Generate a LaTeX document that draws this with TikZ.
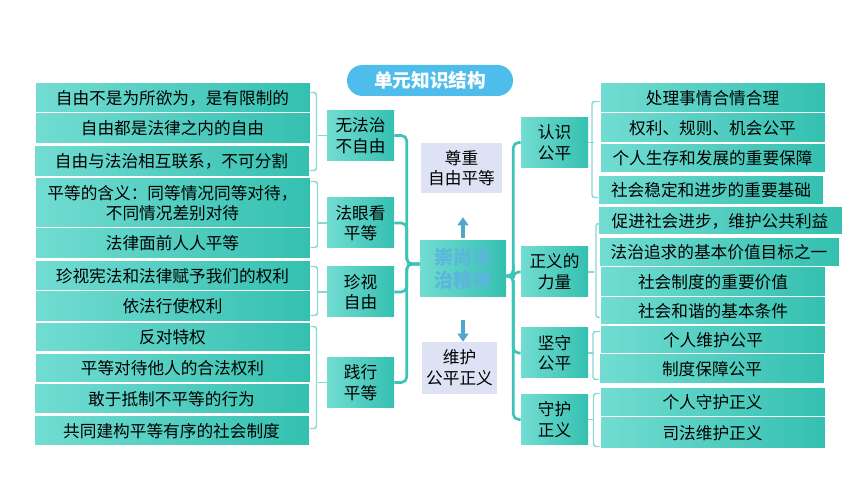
\documentclass[tikz,border=0pt]{standalone}
\usepackage{fontspec}
\setmainfont{Noto Sans CJK SC}
\usetikzlibrary{arrows.meta}
\definecolor{tealL}{HTML}{72DCD2}
\definecolor{tealD}{HTML}{34C0B0}
\definecolor{trunkC}{HTML}{3CC4B6}
\definecolor{braceC}{HTML}{8AD8D2}
\definecolor{goalC}{HTML}{DDE3F4}
\definecolor{titleC}{HTML}{4FBDEB}
\definecolor{arrowC}{HTML}{4FA8CC}
\definecolor{coreC}{HTML}{5DB4DC}

\tikzset{
    leaf/.style={draw=white, line width=0.75pt, left color=tealL, right color=tealD, inner sep=0pt,
        minimum width=206.25pt, align=center, font=\fontsize{12.5}{15.5}\selectfont},
    leafR/.style={leaf, minimum width=168.75pt},
    cat/.style={left color=tealL, right color=tealD, inner sep=0pt, minimum width=50.25pt,
        minimum height=37.5pt, align=center, font=\fontsize{12.5}{15.5}\selectfont},
    goal/.style={fill=goalC, inner sep=0pt, align=center, font=\fontsize{12.5}{15.5}\selectfont},
    bracket/.style={draw=braceC, line width=1.1pt, rounded corners=2pt},
    trunk/.style={draw=trunkC, line width=2pt, rounded corners=4pt},
    goalarrow/.style={draw=arrowC, line width=3pt, -{Triangle[width=8pt,length=6pt]}}
}

\begin{document}
\begin{tikzpicture}[x=0.75pt, y=-0.75pt]
    \fill[white] (0,0) rectangle (861,484);
    \useasboundingbox (0,0) rectangle (861,484);

    \node[fill=titleC, rounded corners=11.6pt, minimum width=124.5pt, minimum height=23.25pt, inner sep=0pt,
        text=white, font=\fontsize{14}{16}\selectfont\bfseries] (title) at (430,80.5) {单元知识结构};

    \node[leaf, minimum height=22.5pt] (L1) at (172.5,98) {自由不是为所欲为，是有限制的};
    \node[leaf, minimum height=23.25pt] (L2) at (172.5,128.5) {自由都是法律之内的自由};
    \node[leaf, minimum height=23.25pt] (L3) at (171.5,161.5) {自由与法治相互联系，不可分割};
    \node[leaf, minimum height=37.5pt] (L4) at (172.5,203) {平等的含义：同等情况同等对待，\\不同情况差别对待};
    \node[leaf, minimum height=23.25pt] (L5) at (172.5,243.5) {法律面前人人平等};
    \node[leaf, minimum height=22.5pt] (L6) at (172.5,276) {珍视宪法和法律赋予我们的权利};
    \node[leaf, minimum height=23.25pt] (L7) at (172.5,306.5) {依法行使权利};
    \node[leaf, minimum height=21.75pt] (L8) at (172.5,337.5) {反对特权};
    \node[leaf, minimum height=21.75pt] (L9) at (172.5,368.5) {平等对待他人的合法权利};
    \node[leaf, minimum height=22.5pt] (L10) at (171.5,399) {敢于抵制不平等的行为};
    \node[leaf, minimum height=22.5pt] (L11) at (171.5,431) {共同建构平等有序的社会制度};

    \node[cat] (C1) at (360.5,135.5) {无法治\\不自由};
    \node[cat] (C2) at (360.5,223) {法眼看\\平等};
    \node[cat] (C3) at (360.5,292) {珍视\\自由};
    \node[cat] (C4) at (360.5,382.5) {践行\\平等};

    \node[cat, minimum width=64.5pt, minimum height=42pt, text=coreC,
        font=\fontsize{14.25}{17}\selectfont\bfseries] (cen) at (463,269) {崇尚法\\治精神};
    \node[goal, minimum width=60.75pt, minimum height=37.5pt] (top) at (461.5,168) {尊重\\自由平等};
    \node[goal, minimum width=56.25pt, minimum height=39pt] (bot) at (459.5,368) {维护\\公平正义};

    \node[cat] (D1) at (554.5,142.5) {认识\\公平};
    \node[cat] (D2) at (554.5,272) {正义的\\力量};
    \node[cat] (D3) at (554.5,353) {坚守\\公平};
    \node[cat] (D4) at (554.5,419.5) {守护\\正义};

    \node[leafR, minimum height=22.5pt] (R1) at (712.5,98) {处理事情合情合理};
    \node[leafR, minimum height=22.5pt] (R2) at (712.5,128) {权利、规则、机会公平};
    \node[leafR, minimum height=21.75pt] (R3) at (712.5,158.5) {个人生存和发展的重要保障};
    \node[leafR, minimum height=21.75pt] (R4) at (711,190.5) {社会稳定和进步的重要基础};
    \node[leafR, minimum width=183pt, minimum height=21pt] (R5) at (720,221) {促进社会进步，维护公共利益};
    \node[leafR, minimum width=180pt, minimum height=21.75pt] (R6) at (719,252.5) {法治追求的基本价值目标之一};
    \node[leafR, minimum height=22.5pt] (R7) at (713,282) {社会制度的重要价值};
    \node[leafR, minimum height=21pt] (R8) at (713,311) {社会和谐的基本条件};
    \node[leafR, minimum height=21pt] (R9) at (713,340) {个人维护公平};
    \node[leafR, minimum height=22.5pt] (R10) at (712,369) {制度保障公平};
    \node[leafR, minimum height=21.75pt] (R11) at (712.5,402.5) {个人守护正义};
    \node[leafR, minimum height=24pt] (R12) at (712.5,433) {司法维护正义};

    \draw[bracket] ([yshift=-7.5pt]L1.north east) -| ([xshift=5.25pt,yshift=5.25pt]L3.south east) -- ([yshift=5.25pt]L3.south east);
    \draw[bracket] ([yshift=-3pt]L4.north east) -| ([xshift=5.25pt,yshift=9pt]L5.south east) -- ([yshift=9pt]L5.south east);
    \draw[bracket] ([yshift=-4.5pt]L6.north east) -| ([xshift=5.25pt,yshift=5.25pt]L7.south east) -- ([yshift=5.25pt]L7.south east);
    \draw[bracket] ([yshift=-3pt]L8.north east) -| ([xshift=5.25pt,yshift=13.5pt]L11.south east) -- ([yshift=13.5pt]L11.south east);
    \draw[bracket] (C1.west) -- ([xshift=5.25pt]L1.east |- C1.west);
    \draw[bracket] (C2.west) -- ([xshift=5.25pt]L1.east |- C2.west);
    \draw[bracket] (C3.west) -- ([xshift=5.25pt]L1.east |- C3.west);
    \draw[bracket] (C4.west) -- ([xshift=5.25pt]L1.east |- C4.west);

    \draw[bracket] ([yshift=-14.25pt]R1.north west) -| ([xshift=-4.5pt,yshift=6pt]R4.south west) -- ([yshift=6pt]R4.south west);
    \draw[bracket] ([yshift=-12.75pt]R5.north west) -| ([xshift=-3pt,yshift=6pt]R8.south west) -- ([yshift=6pt]R8.south west);
    \draw[bracket] ([yshift=-4.5pt]R9.north west) -| ([xshift=-4.5pt,yshift=3.75pt]R10.south west) -- ([yshift=3.75pt]R10.south west);
    \draw[bracket] ([yshift=-4.5pt]R11.north west) -| ([xshift=-4.5pt,yshift=2.25pt]R12.south west) -- ([yshift=2.25pt]R12.south west);
    \draw[bracket] (D1.east) -- ([xshift=-4.5pt]R1.west |- D1.east);
    \draw[bracket] (D2.east) -- ([xshift=-4.5pt]R1.west |- D2.east);
    \draw[bracket] (D3.east) -- ([xshift=-4.5pt]R1.west |- D3.east);
    \draw[bracket] (D4.east) -- ([xshift=-4.5pt]R1.west |- D4.east);

    \draw[trunk] (C1.east) -| ([xshift=-9.75pt,yshift=3.75pt]cen.west) -- ([yshift=3.75pt]cen.west);
    \draw[trunk] (C2.east) -| ([xshift=-9.75pt,yshift=3.75pt]cen.west) -- ([yshift=3.75pt]cen.west);
    \draw[trunk] (C3.east) -| ([xshift=-9.75pt,yshift=3.75pt]cen.west) -- ([yshift=3.75pt]cen.west);
    \draw[trunk] (C4.east) -| ([xshift=-9.75pt,yshift=3.75pt]cen.west) -- ([yshift=3.75pt]cen.west);
    \draw[trunk] ([yshift=-5.25pt]cen.east) -- ([xshift=5.25pt,yshift=-5.25pt]cen.east) |- (D1.west);
    \draw[trunk] ([yshift=-5.25pt]cen.east) -- ([xshift=5.25pt,yshift=-5.25pt]cen.east) |- (D2.west);
    \draw[trunk] ([yshift=-5.25pt]cen.east) -- ([xshift=5.25pt,yshift=-5.25pt]cen.east) |- (D3.west);
    \draw[trunk] ([yshift=-5.25pt]cen.east) -- ([xshift=5.25pt,yshift=-5.25pt]cen.east) |- (D4.west);

    \draw[goalarrow, shorten <=2.25pt, shorten >=18pt] (cen.north) -- (cen.north |- top.south);
    \draw[goalarrow, shorten <=17.25pt] (cen.south) -- (cen.south |- bot.north);
\end{tikzpicture}
\end{document}
